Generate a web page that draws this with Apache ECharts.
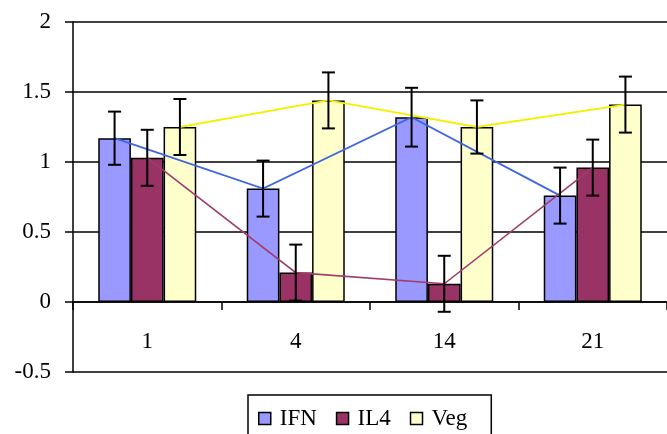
<!DOCTYPE html>
<html>
<head>
<meta charset="utf-8">
<script src="https://cdn.jsdelivr.net/npm/echarts@6/dist/echarts.min.js"></script>
<style>
html,body{margin:0;padding:0;background:#fff;}
#chart{width:667px;height:434px;}
</style>
</head>
<body>
<div id="chart"></div>
<script>
const categories = ['1', '4', '14', '21'];
const seriesNames = ['IFN', 'IL4', 'Veg'];
const ifnValues = [1.17, 0.81, 1.32, 0.76];
const il4Values = [1.03, 0.21, 0.13, 0.96];
const vegValues = [1.25, 1.44, 1.25, 1.41];
const ifnErrors = [0.19, 0.20, 0.21, 0.20];
const il4Errors = [0.20, 0.20, 0.20, 0.20];
const vegErrors = [0.20, 0.20, 0.19, 0.20];
const yTicks = [-0.5, 0, 0.5, 1, 1.5, 2];

const BAR_FRAC = 0.22;
const barColors = ['#9999ff', '#993366', '#ffffcc'];
const lineColors = ['#3f66e0', '#a03c6c', '#f5f000'];
const allValues = [ifnValues, il4Values, vegValues];
const allErrors = [ifnErrors, il4Errors, vegErrors];
const FONT = 'Liberation Serif';
const FS = 23;

function offsetOf(k, api) {
  const band = api.size([1, 0])[0];
  return (k - 1) * band * BAR_FRAC;
}

const series = [];
// bars
seriesNames.forEach((name, k) => {
  series.push({
    name: name,
    type: 'bar',
    data: allValues[k],
    barWidth: (BAR_FRAC * 100) + '%',
    barGap: '0%',
    itemStyle: { color: barColors[k], borderColor: '#000', borderWidth: 1.5 },
    z: 2
  });
});
// connecting lines through bar tops
seriesNames.forEach((name, k) => {
  series.push({
    type: 'custom',
    name: name + '-line',
    data: allValues[k].map((v, i) => [i, v]),
    z: 5,
    silent: true,
    renderItem: function (params, api) {
      if (params.dataIndex !== 0) return null;
      const off = offsetOf(k, api);
      const pts = allValues[k].map((v, i) => {
        const c = api.coord([i, v]);
        return [c[0] + off, c[1]];
      });
      return {
        type: 'polyline',
        shape: { points: pts },
        style: { stroke: lineColors[k], lineWidth: k === 1 ? 1.6 : 1.9, fill: null }
      };
    }
  });
});
// error bars
seriesNames.forEach((name, k) => {
  series.push({
    type: 'custom',
    name: name + '-err',
    data: allValues[k].map((v, i) => [i, v, allErrors[k][i]]),
    z: 6,
    silent: true,
    renderItem: function (params, api) {
      const i = api.value(0), v = api.value(1), e = api.value(2);
      const off = offsetOf(k, api);
      const top = api.coord([i, v + e]);
      const bot = api.coord([i, v - e]);
      const x = top[0] + off;
      const cap = 6.5;
      const st = { stroke: '#000', lineWidth: 2 };
      return {
        type: 'group',
        children: [
          { type: 'line', shape: { x1: x, y1: top[1], x2: x, y2: bot[1] }, style: st },
          { type: 'line', shape: { x1: x - cap, y1: top[1], x2: x + cap, y2: top[1] }, style: st },
          { type: 'line', shape: { x1: x - cap, y1: bot[1], x2: x + cap, y2: bot[1] }, style: st }
        ]
      };
    }
  });
});

const chart = echarts.init(document.getElementById('chart'));
chart.setOption({
  animation: false,
  backgroundColor: '#fff',
  grid: { left: 73, top: 22, right: -10, bottom: 62, containLabel: false },
  legend: {
    data: seriesNames,
    left: 248,
    top: 395,
    orient: 'horizontal',
    borderColor: '#000',
    borderWidth: 1.5,
    padding: [12, 24, 20, 10],
    itemWidth: 12,
    itemHeight: 12,
    itemGap: 19,
    icon: 'rect',
    itemStyle: { borderColor: '#000', borderWidth: 1.5 },
    textStyle: { fontFamily: FONT, fontSize: FS, color: '#000', padding: [0, 0, 0, 4] }
  },
  xAxis: {
    type: 'category',
    data: categories,
    axisLine: { show: true, onZero: true, lineStyle: { color: '#000', width: 1.5 } },
    axisTick: { show: true, length: 8, lineStyle: { color: '#000', width: 1.5 } },
    axisLabel: { fontFamily: FONT, fontSize: FS, color: '#000', margin: -42 },
    splitLine: { show: false }
  },
  yAxis: {
    type: 'value',
    min: yTicks[0],
    max: yTicks[yTicks.length - 1],
    interval: 0.5,
    axisLine: { show: true, lineStyle: { color: '#000', width: 1.5 } },
    axisTick: { show: true, length: 8, lineStyle: { color: '#000', width: 1.5 } },
    axisLabel: { fontFamily: FONT, fontSize: FS, color: '#000', margin: 22 },
    splitLine: { show: true, lineStyle: { color: '#000', width: 1.5 } }
  },
  series: series
});
</script>
</body>
</html>
